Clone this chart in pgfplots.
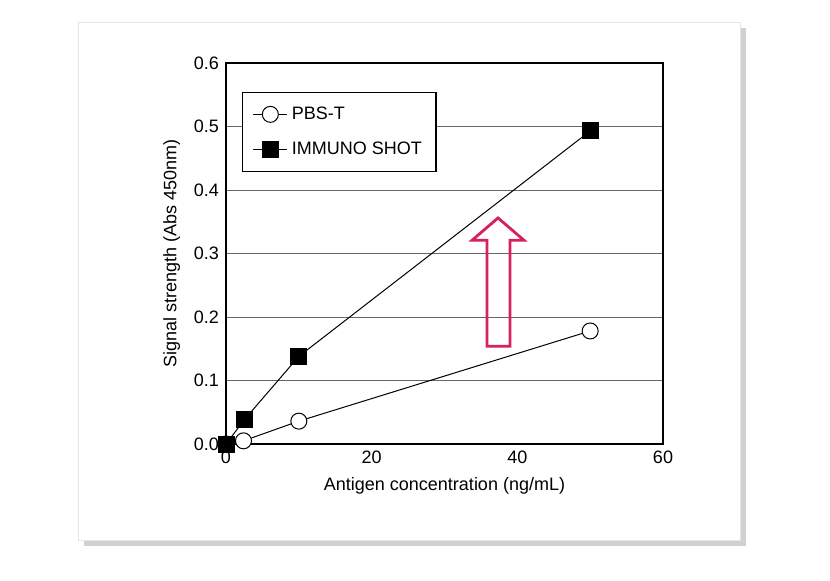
\documentclass[border=0pt]{standalone}
\usepackage{pgfplots}
\pgfplotsset{compat=1.18}
\usepackage{fontspec}
\setmainfont{Liberation Sans}
\definecolor{arr}{HTML}{D6205F}
\begin{document}
\begin{tikzpicture}[x=0.5pt,y=0.5pt]
\fill[white] (0,0) rectangle (830,580);
\fill[black!18] (84,34) rectangle (746,552);
\fill[white,draw=black!10] (78,40) rectangle (740,558);
\begin{axis}[at={(113pt,68pt)},anchor=origin,
  scale only axis,width=218.5pt,height=190.5pt,
  xmin=0,xmax=60,ymin=0,ymax=0.6,
  xtick={0,20,40,60},ytick={0,0.1,...,0.6},
  yticklabel style={/pgf/number format/.cd,fixed,fixed zerofill,precision=1},
  /pgf/number format/assume math mode=true,
  ymajorgrids,grid style={black!60,line width=0.5pt},
  tick style={draw=none},
  axis line style={line width=0.6pt},
  ticklabel style={font=\fontsize{9}{10}\selectfont},
  label style={font=\fontsize{9}{10}\selectfont},
  xlabel={Antigen concentration (ng/mL)},
  ylabel={Signal strength (Abs 450nm)},
  clip=false,
  legend style={at={(0.037,0.924)},anchor=north west,draw=black,line width=0.6pt,
    font=\fontsize{9}{10}\selectfont,row sep=6pt,inner sep=5pt},
  legend cell align=left,
]
\addplot[black,line width=0.5pt,mark=*,mark size=4pt,mark options={fill=white}]
 coordinates {(0,0) (2.4,0.005) (10,0.036) (50,0.178)};
\addlegendentry{PBS-T}
\addplot[black,line width=0.5pt,mark=square*,mark size=4pt,mark options={fill=black}]
 coordinates {(0,0) (2.5,0.038) (10,0.138) (50,0.493)};
\addlegendentry{IMMUNO SHOT}
\draw[arr,line width=1.4pt,line join=miter] (axis cs:35.84,0.154) -- (axis cs:35.84,0.321) -- (axis cs:33.8,0.321) -- (axis cs:37.35,0.356) -- (axis cs:40.9,0.321) -- (axis cs:39.0,0.321) -- (axis cs:39.0,0.154) -- cycle;
\end{axis}
\end{tikzpicture}
\end{document}
